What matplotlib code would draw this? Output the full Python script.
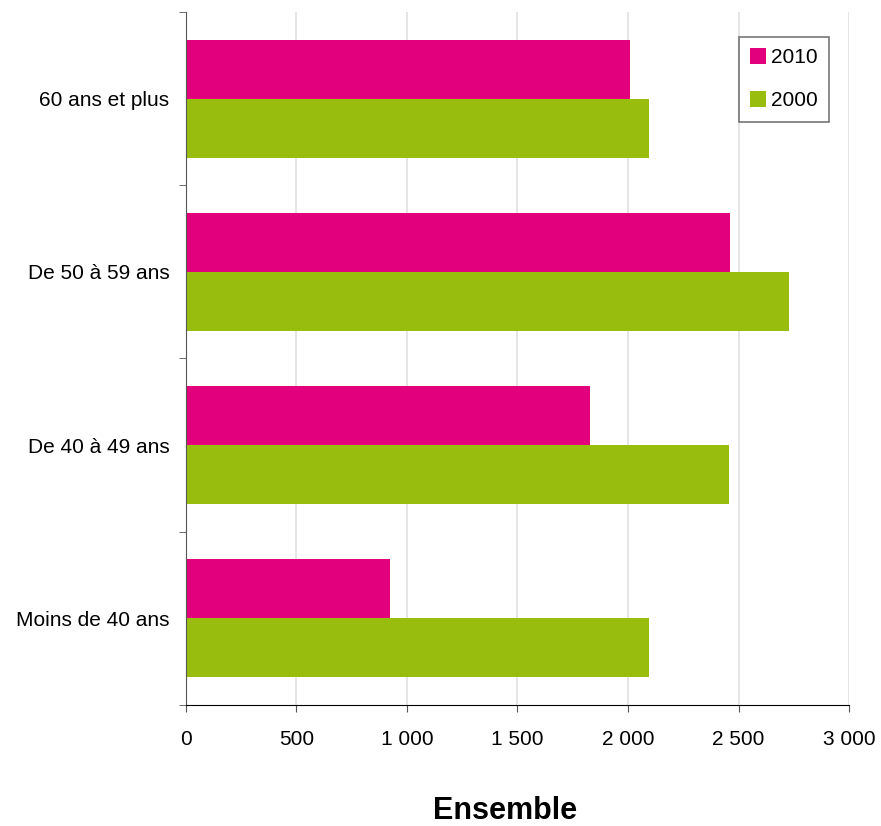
import numpy as np
import matplotlib.pyplot as plt
from matplotlib.ticker import FixedLocator, FuncFormatter

plt.rcParams['font.family'] = ['Liberation Sans', 'DejaVu Sans']

# data (bottom to top)
categories = ["Moins de 40 ans", "De 40 à 49 ans", "De 50 à 59 ans", "60 ans et plus"]
val_2010 = [923, 1828, 2462, 2009]
val_2000 = [2095, 2457, 2729, 2095]
x_ticks = [0, 500, 1000, 1500, 2000, 2500, 3000]

col_2010 = "#e3007d"
col_2000 = "#99bd0f"

fig = plt.figure(figsize=(8.81, 8.26), dpi=100)
ax = fig.add_axes([0.2111, 0.1465, 0.7526, 0.839])

y = np.arange(len(categories))
h = 0.34
ax.barh(y - h / 2, val_2000, height=h, color=col_2000, label="2000", zorder=2)
ax.barh(y + h / 2, val_2010, height=h, color=col_2010, label="2010", zorder=2)

ax.set_xlim(0, 3000)
ax.set_ylim(-0.5, len(categories) - 0.5)
ax.set_xticks(x_ticks)
ax.xaxis.set_major_formatter(FuncFormatter(lambda v, p: f"{int(v):,}".replace(",", " ")))
ax.grid(axis="x", color="#e3e3e3", linewidth=1.3, zorder=0)

ax.set_yticks(y)
ax.set_yticklabels(categories)
ax.yaxis.set_minor_locator(FixedLocator(np.arange(-0.5, len(categories), 1)))
ax.tick_params(axis="y", which="major", length=0, pad=12, labelsize=15)
ax.tick_params(axis="y", which="minor", length=5, color="#555555")
ax.tick_params(axis="x", length=5, color="#555555", labelsize=15, pad=13)

for s in ["top", "right"]:
    ax.spines[s].set_visible(False)
ax.spines["left"].set_color("#555555")
ax.spines["bottom"].set_color("black")

handles, labels = ax.get_legend_handles_labels()
leg = ax.legend(handles[::-1], labels[::-1], loc="upper right",
                bbox_to_anchor=(0.970, 0.964), borderaxespad=0, fontsize=15,
                fancybox=False, edgecolor="#555555", handlelength=0.75,
                handleheight=0.75, handletextpad=0.25, labelspacing=1.15,
                borderpad=0.55)
leg.get_frame().set_linewidth(1.2)

fig.text(0.573, 0.008, "Ensemble", fontsize=22, fontweight="bold", ha="center")

fig.savefig("out.png", dpi=100)
